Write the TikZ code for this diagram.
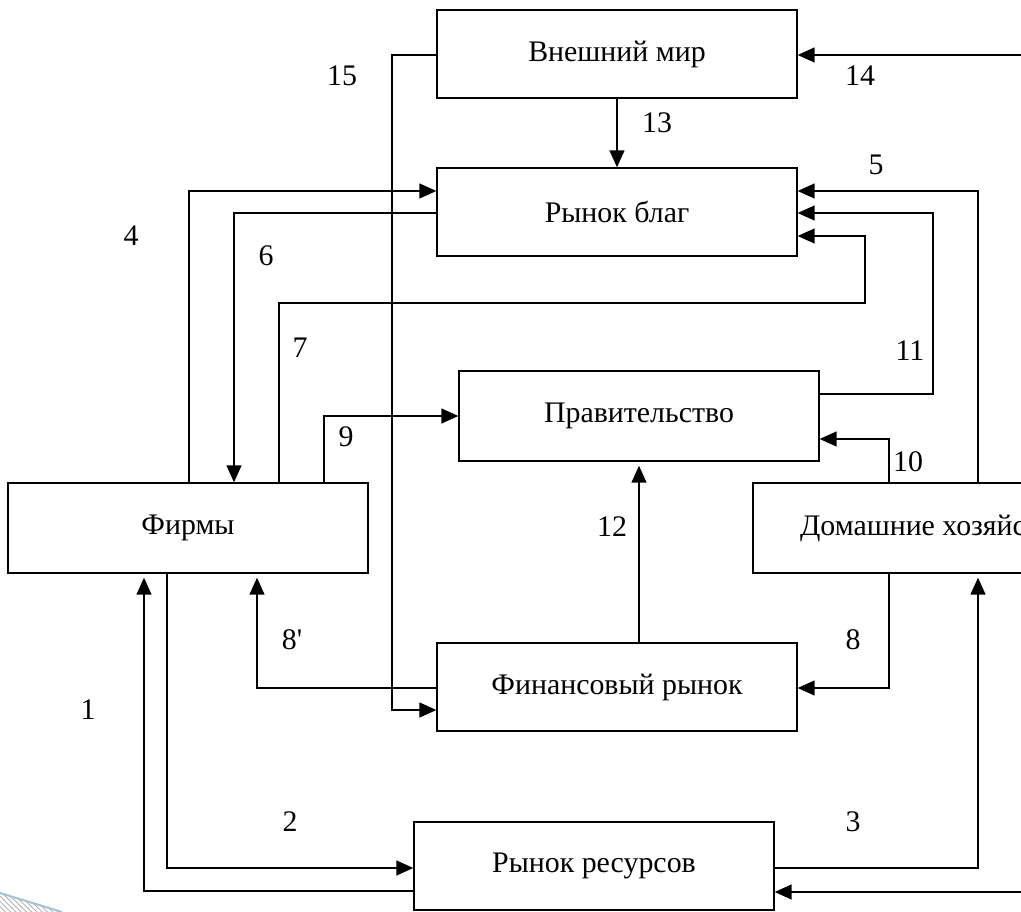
\documentclass[tikz,border=0pt]{standalone}
\usepackage{fontspec}
\setmainfont{Liberation Serif}
\usepackage{tikz}
\usetikzlibrary{arrows.meta,patterns}

\begin{document}
\begin{tikzpicture}[x=0.02cm,y=-0.02cm,
    sector/.style={draw,line width=0.8pt,minimum width=7.2cm,minimum height=1.76cm,
      inner sep=0pt,font=\fontsize{17}{20}\selectfont},
    flow/.style={line width=0.8pt,-{Triangle[length=0.34cm,width=0.3cm]}},
    gap/.style={shorten >=0.08cm},
    num/.style={font=\fontsize{17}{20}\selectfont}]
              \useasboundingbox (0,0) rectangle (1021,912);
              % slide decoration
              \fill[pattern=north west lines,pattern color=gray!70] (0,893) -- (62,912) -- (0,912) -- cycle;
              \draw[cyan!40!gray!60,line width=1.2pt] (0,893) -- (62,912);
              % sectors and markets
              \node[sector] (world) at (617,54) {Внешний мир};
              \node[sector] (goods) at (617,212) {Рынок благ};
              \node[sector,minimum height=1.8cm] (gov) at (639,416) {Правительство};
              \node[sector,minimum height=1.8cm] (firm) at (188,528) {Фирмы};
              \node[sector,minimum height=1.8cm] (house) at (933,528) {Домашние хозяйства};
              \node[sector] (fin) at (617,687) {Финансовый рынок};
              \node[sector] (res) at (594,866) {Рынок ресурсов};
              % bends of the flows
              \coordinate (c4) at (189,191);
              \coordinate (c6) at (234,213);
              \coordinate (c7) at (279,303);
              \coordinate (c7b) at (865,236);
              \coordinate (c9) at (324,416);
              \coordinate (c15) at (392,55);
              \coordinate (c15b) at (392,710);
              \coordinate (c5) at (978,191);
              \coordinate (c11) at (933,394);
              \coordinate (c11b) at (933,213);
              \coordinate (c10) at (889,439);
              \coordinate (c8) at (889,688);
              \coordinate (c8p) at (257,688);
              \coordinate (c3) at (978,868);
              \coordinate (c1) at (144,891);
              \coordinate (c2) at (167,868);
              \coordinate (in14) at (1040,55);
              \coordinate (inb) at (1040,892);
              % flows
              \draw[flow] (firm.north -| c4) |- (goods.west |- c4);
              \draw[flow] (goods.west |- c6) -| (firm.north -| c6);
              \draw[flow] (firm.north -| c7) |- (c7b |- c7) -- (c7b) -- (goods.east |- c7b);
              \draw[flow] (firm.north -| c9) |- (gov.west |- c9);
              \draw[flow] (world.west |- c15) -- (c15) -- (c15b) -- (fin.west |- c15b);
              \draw[flow] (world.south) -- (goods.north);
              \draw[flow] (in14) -- (world.east |- in14);
              \draw[flow] (house.north -| c5) |- (goods.east |- c5);
              \draw[flow] (gov.east |- c11) -- (c11) -- (c11b) -- (goods.east |- c11b);
              \draw[flow] (house.north -| c10) |- (gov.east |- c10);
              \draw[flow,gap] (fin.north -| gov.south) -- (gov.south);
              \draw[flow] (house.south -| c8) |- (fin.east |- c8);
              \draw[flow,gap] (fin.west |- c8p) -| (firm.south -| c8p);
              \draw[flow,gap] (res.east |- c3) -| (house.south -| c3);
              \draw[flow] (inb) -- (res.east |- inb);
              \draw[flow,gap] (res.west |- c1) -| (firm.south -| c1);
              \draw[flow] (firm.south -| c2) |- (res.west |- c2);
              % flow numbers
              \node[num] (l15) at (342,76) {15};
              \node[num] (l14) at (860,76) {14};
              \node[num] (l13) at (657,123) {13};
              \node[num] (l5) at (876,165) {5};
              \node[num] (l4) at (131,236) {4};
              \node[num] (l6) at (266,256) {6};
              \node[num] (l7) at (300,348) {7};
              \node[num] (l11) at (910,351) {11};
              \node[num] (l9) at (346,437) {9};
              \node[num] (l10) at (908,462) {10};
              \node[num] (l12) at (612,527) {12};
              \node[num] (l8p) at (292,640) {8\addfontfeatures{Ligatures=TeXOff}'};
              \node[num] (l8) at (853,640) {8};
              \node[num] (l1) at (88,710) {1};
              \node[num] (l2) at (290,822) {2};
              \node[num] (l3) at (853,822) {3};
            \end{tikzpicture}
\end{document}
